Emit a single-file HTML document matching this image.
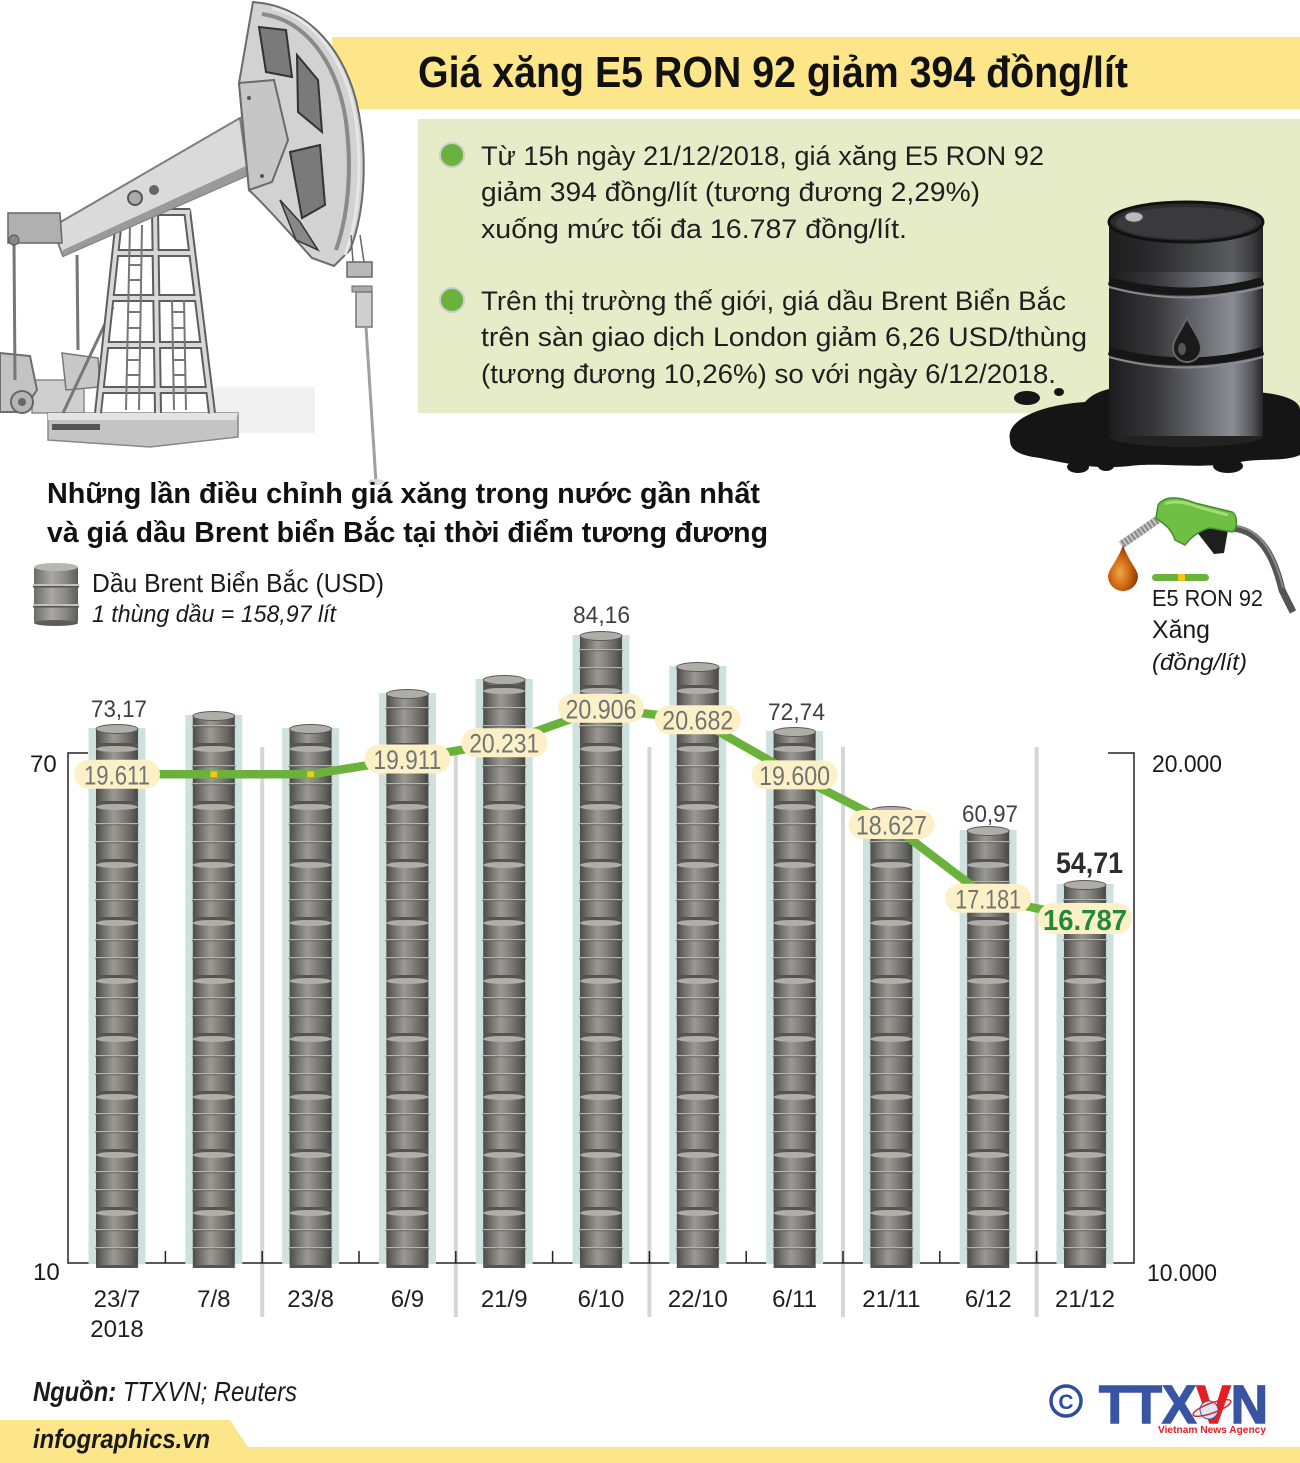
<!DOCTYPE html>
<html><head><meta charset="utf-8">
<style>
html,body{margin:0;padding:0;background:#fff;}
svg{display:block;}
text{font-family:"Liberation Sans","DejaVu Sans",sans-serif;}
</style></head><body>
<svg width="1300" height="1463" viewBox="0 0 1300 1463" xmlns="http://www.w3.org/2000/svg">
<defs>
 <linearGradient id="bg" x1="0" x2="1" y1="0" y2="0">
  <stop offset="0" stop-color="#4c4b48"/>
  <stop offset="0.2" stop-color="#74736f"/>
  <stop offset="0.42" stop-color="#9a9994"/>
  <stop offset="0.6" stop-color="#85847f"/>
  <stop offset="0.85" stop-color="#62615d"/>
  <stop offset="1" stop-color="#454442"/>
 </linearGradient>
 <linearGradient id="lg" x1="0" x2="1" y1="0" y2="0">
  <stop offset="0" stop-color="#6d6b67"/>
  <stop offset="0.4" stop-color="#aaa8a3"/>
  <stop offset="0.7" stop-color="#8c8a86"/>
  <stop offset="1" stop-color="#5e5c59"/>
 </linearGradient>
 <linearGradient id="bk" x1="0" x2="1" y1="0" y2="0">
  <stop offset="0" stop-color="#1c1c1e"/>
  <stop offset="0.3" stop-color="#38383b"/>
  <stop offset="0.62" stop-color="#6e6f75"/>
  <stop offset="0.8" stop-color="#8c8d94"/>
  <stop offset="0.93" stop-color="#55555a"/>
  <stop offset="1" stop-color="#262628"/>
 </linearGradient>
 <radialGradient id="dr" cx="0.4" cy="0.6" r="0.6">
  <stop offset="0" stop-color="#f3a54a"/>
  <stop offset="0.6" stop-color="#c9620c"/>
  <stop offset="1" stop-color="#8a3a05"/>
 </radialGradient>
 <pattern id="bp" patternUnits="userSpaceOnUse" x="94" y="-8" width="96.8" height="58">
  <rect x="2" y="0" width="42" height="58" fill="url(#bg)"/>
  <ellipse cx="23" cy="3" rx="21" ry="3" fill="#aeada8"/>
  <rect x="2" y="55" width="42" height="3" fill="#55544f"/>
  <rect x="1" y="19" width="44" height="1.3" rx="0.6" fill="#b4b3ae"/>
  <rect x="1" y="20.3" width="44" height="1" fill="#55544f" opacity="0.7"/>
  <rect x="1" y="37" width="44" height="1.3" rx="0.6" fill="#b4b3ae"/>
  <rect x="1" y="38.3" width="44" height="1" fill="#55544f" opacity="0.7"/>
 </pattern>
</defs>

<!-- header band -->
<rect x="332" y="37" width="968" height="72" fill="#fde68a"/>
<text x="418" y="87" font-size="44" font-weight="bold" fill="#111" textLength="710" lengthAdjust="spacingAndGlyphs">Giá xăng E5 RON 92 giảm 394 đồng/lít</text>

<!-- green box -->
<rect x="418" y="119" width="882" height="294" fill="#e6ecc7"/>
<circle cx="452" cy="155" r="12" fill="#6ab23c" stroke="#c9cdd0" stroke-width="2"/>
<circle cx="452" cy="300" r="12" fill="#6ab23c" stroke="#c9cdd0" stroke-width="2"/>
<g font-size="27" fill="#1f1f1f">
<text x="481" y="165" textLength="563" lengthAdjust="spacingAndGlyphs">Từ 15h ngày 21/12/2018, giá xăng E5 RON 92</text>
<text x="481" y="201" textLength="499" lengthAdjust="spacingAndGlyphs">giảm 394 đồng/lít (tương đương 2,29%)</text>
<text x="481" y="238" textLength="426" lengthAdjust="spacingAndGlyphs">xuống mức tối đa 16.787 đồng/lít.</text>
<text x="481" y="310" textLength="585" lengthAdjust="spacingAndGlyphs">Trên thị trường thế giới, giá dầu Brent Biển Bắc</text>
<text x="481" y="346" textLength="606" lengthAdjust="spacingAndGlyphs">trên sàn giao dịch London giảm 6,26 USD/thùng</text>
<text x="481" y="383" textLength="575" lengthAdjust="spacingAndGlyphs">(tương đương 10,26%) so với ngày 6/12/2018.</text>
</g>

<!-- oil puddle + barrel -->
<path d="M1010,440 C1005,420 1040,405 1085,402 C1100,385 1130,385 1160,390 L1230,392 C1260,390 1300,395 1300,410 L1300,455 C1285,462 1260,458 1240,462 C1200,470 1160,462 1130,466 C1090,470 1060,462 1040,458 C1015,455 1010,448 1010,440 Z" fill="#151515"/>
<ellipse cx="1027" cy="398" rx="13" ry="7" fill="#151515"/>
<ellipse cx="1059" cy="392" rx="5" ry="4" fill="#151515"/>
<ellipse cx="1078" cy="467" rx="11" ry="6" fill="#151515"/>
<ellipse cx="1106" cy="466" rx="8" ry="5" fill="#151515"/>
<ellipse cx="1228" cy="466" rx="15" ry="7" fill="#151515"/>
<ellipse cx="1276" cy="450" rx="10" ry="6" fill="#151515"/>
<ellipse cx="1186" cy="436" rx="77" ry="11" fill="#222"/>
<rect x="1109" y="222" width="154" height="214" fill="url(#bk)"/>
<rect x="1109" y="222" width="154" height="50" fill="#1e1e20" opacity="0.45"/>
<path d="M1109,281 Q1186,302 1263,281" stroke="#161616" stroke-width="8" fill="none"/>
<path d="M1109,287 Q1186,308 1263,287" stroke="#8a8a90" stroke-width="2" fill="none"/>
<path d="M1109,351 Q1186,372 1263,351" stroke="#161616" stroke-width="8" fill="none"/>
<path d="M1109,357 Q1186,378 1263,357" stroke="#8a8a90" stroke-width="2" fill="none"/>
<ellipse cx="1186" cy="222" rx="77" ry="20" fill="#2b2b2d" stroke="#111" stroke-width="3"/>
<ellipse cx="1186" cy="223" rx="70" ry="16" fill="#3a3a3d"/>
<ellipse cx="1134" cy="217" rx="9" ry="5" fill="#bbb" stroke="#555"/>
<path d="M1187,318 C1180,332 1173,340 1173,348 A14,14 0 0 0 1201,348 C1201,340 1194,332 1187,318 Z" fill="#1a1a1a" stroke="#666" stroke-width="2"/>
<ellipse cx="1182" cy="349" rx="4" ry="6" fill="#555"/>

<!-- oil pump illustration -->
<g>
 <rect x="207" y="387" width="108" height="46" fill="#f1f1f1"/>
 <rect x="32" y="380" width="52" height="33" fill="#cfcfcf" stroke="#8a8a8a" stroke-width="1.5"/>
 <polygon points="0,353 30,356 37,390 22,412 0,412" fill="#c3c3c3" stroke="#6d6d6d" stroke-width="2"/>
 <polygon points="62,353 98,358 100,387 66,390" fill="#c8c8c8" stroke="#777" stroke-width="1.5"/>
 <circle cx="22" cy="402" r="11" fill="#b5b5b5" stroke="#666" stroke-width="2"/>
 <circle cx="22" cy="402" r="4" fill="#666"/>
 <polygon points="48,413 238,413 238,437 150,447 48,440" fill="#c4c4c4" stroke="#888" stroke-width="1.5"/>
 <polygon points="48,413 238,413 236,420 48,420" fill="#e4e4e4"/>
 <rect x="52" y="424" width="48" height="6" fill="#555"/>
 <line x1="14" y1="245" x2="15" y2="380" stroke="#777" stroke-width="3"/>
 <line x1="77" y1="255" x2="78" y2="350" stroke="#777" stroke-width="3"/>
 <line x1="63" y1="413" x2="113" y2="307" stroke="#777" stroke-width="3"/>
 <!-- tower -->
 <g stroke="#5e5e5e" stroke-width="8" fill="none">
  <line x1="120" y1="210" x2="98" y2="413"/>
  <line x1="187" y1="210" x2="212" y2="413"/>
  <line x1="155" y1="210" x2="158" y2="413"/>
  <line x1="115" y1="253" x2="192" y2="253"/>
  <line x1="110" y1="298" x2="198" y2="298"/>
  <line x1="105" y1="345" x2="204" y2="345"/>
  <line x1="100" y1="390" x2="209" y2="390"/>
  <line x1="118" y1="212" x2="190" y2="212"/>
 </g>
 <g stroke="#d8d8d8" stroke-width="4" fill="none">
  <line x1="120" y1="210" x2="98" y2="413"/>
  <line x1="187" y1="210" x2="212" y2="413"/>
  <line x1="155" y1="210" x2="158" y2="413"/>
  <line x1="115" y1="253" x2="192" y2="253"/>
  <line x1="110" y1="298" x2="198" y2="298"/>
  <line x1="105" y1="345" x2="204" y2="345"/>
  <line x1="100" y1="390" x2="209" y2="390"/>
  <line x1="118" y1="212" x2="190" y2="212"/>
 </g>
 <g stroke="#777" stroke-width="2">
  <line x1="130" y1="225" x2="126" y2="410"/>
  <line x1="142" y1="225" x2="139" y2="410"/>
  <line x1="172" y1="300" x2="174" y2="410"/>
  <line x1="184" y1="300" x2="186" y2="410"/>
  <line x1="128" y1="265" x2="141" y2="265"/><line x1="128" y1="280" x2="141" y2="280"/>
  <line x1="127" y1="312" x2="140" y2="312"/><line x1="127" y1="328" x2="140" y2="328"/>
  <line x1="126" y1="360" x2="139" y2="360"/><line x1="126" y1="375" x2="139" y2="375"/>
  <line x1="172" y1="312" x2="185" y2="312"/><line x1="172" y1="328" x2="185" y2="328"/>
  <line x1="173" y1="360" x2="186" y2="360"/><line x1="173" y1="375" x2="186" y2="375"/>
 </g>
 <!-- beam -->
 <polygon points="52,227 240,118 248,175 63,256" fill="#dadada" stroke="#7d7d7d" stroke-width="2"/>
 <polygon points="63,250 246,166 248,175 63,256" fill="#9a9a9a"/>
 <polygon points="8,213 60,213 62,243 8,243" fill="#b0b0b0" stroke="#666" stroke-width="1.5"/>
 <circle cx="14" cy="240" r="5" fill="#888" stroke="#555"/>
 <circle cx="135" cy="198" r="7" fill="#aaa" stroke="#555" stroke-width="2"/>
 <circle cx="154" cy="190" r="5" fill="#666"/>
 <!-- horsehead -->
 <path d="M253,2 C300,5 340,40 356,100 C368,150 366,210 350,250 L334,266 L312,258 C300,245 275,215 249,190 L239,83 Z" fill="#d2d2d2" stroke="#6a6a6a" stroke-width="2"/>
 <path d="M262,14 C305,20 335,60 345,115 C352,160 350,210 336,250" stroke="#8a8a8a" stroke-width="4" fill="none"/>
 <path d="M272,8 C315,18 345,60 355,115 C362,160 360,215 345,255" stroke="#e6e6e6" stroke-width="3" fill="none"/>
 <polygon points="259,27 286,30 292,77 266,72" fill="#7a7a7a" stroke="#333" stroke-width="2"/>
 <polygon points="297,55 318,80 322,132 298,112" fill="#7a7a7a" stroke="#333" stroke-width="2"/>
 <polygon points="290,152 320,145 325,205 302,218" fill="#7a7a7a" stroke="#333" stroke-width="2"/>
 <polygon points="280,200 300,222 318,250 296,240" fill="#888" stroke="#333" stroke-width="1.5"/>
 <polygon points="239,83 274,80 288,140 272,182 249,190" fill="#c6c6c6" stroke="#6a6a6a" stroke-width="2"/>
 <circle cx="249" cy="98" r="2" fill="#555"/><circle cx="262" cy="176" r="2" fill="#555"/>
 <!-- rod -->
 <line x1="351" y1="235" x2="353" y2="262" stroke="#666" stroke-width="1.5"/>
 <line x1="360" y1="235" x2="364" y2="262" stroke="#666" stroke-width="1.5"/>
 <rect x="347" y="262" width="25" height="15" fill="#b8b8b8" stroke="#666" stroke-width="1.5"/>
 <rect x="352" y="286" width="20" height="6" fill="#aaa" stroke="#666"/>
 <rect x="356" y="292" width="16" height="35" fill="#cfcfcf" stroke="#777" stroke-width="1.5"/>
 <line x1="366" y1="327" x2="376" y2="482" stroke="#a0a0a0" stroke-width="3"/>
 <ellipse cx="376" cy="482" rx="8" ry="3" fill="#ddd"/>
</g>

<!-- subtitle -->
<text x="47" y="503" font-size="29" font-weight="bold" fill="#111" textLength="713" lengthAdjust="spacingAndGlyphs">Những lần điều chỉnh giá xăng trong nước gần nhất</text>
<text x="47" y="542" font-size="29" font-weight="bold" fill="#111" textLength="721" lengthAdjust="spacingAndGlyphs">và giá dầu Brent biển Bắc tại thời điểm tương đương</text>

<!-- legend left -->
<rect x="34" y="566" width="44" height="58" rx="3" fill="url(#lg)"/>
<ellipse cx="56" cy="567" rx="22" ry="4" fill="#b8b6b1"/>
<rect x="33" y="584" width="46" height="2" fill="#c2c0bb"/><rect x="33" y="586" width="46" height="1.5" fill="#55534f"/>
<rect x="33" y="604" width="46" height="2" fill="#c2c0bb"/><rect x="33" y="606" width="46" height="1.5" fill="#55534f"/>
<ellipse cx="56" cy="623" rx="22" ry="3" fill="#5e5c59"/>
<text x="92" y="592" font-size="26" fill="#1a1a1a" textLength="292" lengthAdjust="spacingAndGlyphs">Dầu Brent Biển Bắc (USD)</text>
<text x="92" y="622" font-size="24" font-style="italic" fill="#1a1a1a" textLength="244" lengthAdjust="spacingAndGlyphs">1 thùng dầu = 158,97 lít</text>

<!-- legend right: pump nozzle -->
<path d="M1232,528 C1262,530 1275,560 1282,590 L1293,612" stroke="#555" stroke-width="7" fill="none"/>
<path d="M1236,526 C1264,530 1276,560 1283,588" stroke="#8a8a8a" stroke-width="2" fill="none"/>
<path d="M1121,545 L1160,518" stroke="#8e8e8e" stroke-width="8"/>
<path d="M1121,545 L1160,518" stroke="#d0d0d0" stroke-width="8" stroke-dasharray="1.5 2.5"/>
<path d="M1192,526 L1228,530 L1224,553 L1214,554 L1200,536 Z" fill="#1e1e1e"/>
<path d="M1158,505 C1165,495 1180,497 1195,503 L1232,512 C1238,515 1238,530 1232,532 L1210,528 C1200,530 1190,538 1185,545 L1175,540 C1170,525 1160,522 1156,518 Z" fill="#6fbf44" stroke="#3f8f2a" stroke-width="1.5"/>
<path d="M1165,504 C1175,500 1188,503 1198,507 L1228,515" stroke="#a6dc72" stroke-width="3" fill="none"/>
<path d="M1123,545 C1118,560 1108,570 1108,576 A15,15 0 0 0 1138,576 C1138,570 1128,560 1123,545 Z" fill="url(#dr)"/>
<rect x="1152" y="574" width="57" height="7" rx="3.5" fill="#6ab23c"/>
<rect x="1178" y="574" width="7" height="7" fill="#f5c518"/>
<text x="1152" y="606" font-size="23" fill="#1a1a1a" textLength="111" lengthAdjust="spacingAndGlyphs">E5 RON 92</text>
<text x="1152" y="638" font-size="25" fill="#1a1a1a" textLength="58" lengthAdjust="spacingAndGlyphs">Xăng</text>
<text x="1152" y="670" font-size="23" font-style="italic" fill="#1a1a1a" textLength="95" lengthAdjust="spacingAndGlyphs">(đồng/lít)</text>

<!-- separators -->
<g fill="#d6d6d6">
 <rect x="260.2" y="747" width="4" height="570"/>
 <rect x="453.8" y="747" width="4" height="570"/>
 <rect x="647.4" y="747" width="4" height="570"/>
 <rect x="841" y="747" width="4" height="570"/>
 <rect x="1034.6" y="747" width="4" height="570"/>
</g>

<!-- axes -->
<g stroke="#222" stroke-width="1.5" fill="none">
 <polyline points="88,753 68,753 68,1263 1134,1263 1134,753 1108,753"/>
 <line x1="165.4" y1="1251" x2="165.4" y2="1263"/>
 <line x1="262.2" y1="1251" x2="262.2" y2="1263"/>
 <line x1="359" y1="1251" x2="359" y2="1263"/>
 <line x1="455.8" y1="1251" x2="455.8" y2="1263"/>
 <line x1="552.6" y1="1251" x2="552.6" y2="1263"/>
 <line x1="649.4" y1="1251" x2="649.4" y2="1263"/>
 <line x1="746.2" y1="1251" x2="746.2" y2="1263"/>
 <line x1="843" y1="1251" x2="843" y2="1263"/>
 <line x1="939.8" y1="1251" x2="939.8" y2="1263"/>
 <line x1="1036.6" y1="1251" x2="1036.6" y2="1263"/>
</g>

<!-- teal columns -->
<g fill="#cfe1de">
 <rect x="88.5" y="728" width="57" height="536"/>
 <rect x="185.3" y="715" width="57" height="549"/>
 <rect x="282.1" y="728" width="57" height="536"/>
 <rect x="378.9" y="693" width="57" height="571"/>
 <rect x="475.7" y="679" width="57" height="585"/>
 <rect x="572.5" y="635" width="57" height="629"/>
 <rect x="669.3" y="666" width="57" height="598"/>
 <rect x="766.1" y="731" width="57" height="533"/>
 <rect x="862.9" y="810" width="57" height="454"/>
 <rect x="959.7" y="830" width="57" height="434"/>
 <rect x="1056.5" y="884" width="57" height="380"/>
</g>

<!-- barrel stacks -->
<g fill="url(#bp)">
 <rect x="94" y="729" width="46" height="539"/>
 <rect x="190.8" y="716" width="46" height="552"/>
 <rect x="287.6" y="729" width="46" height="539"/>
 <rect x="384.4" y="694" width="46" height="574"/>
 <rect x="481.2" y="680" width="46" height="588"/>
 <rect x="578" y="636" width="46" height="632"/>
 <rect x="674.8" y="667" width="46" height="601"/>
 <rect x="771.6" y="732" width="46" height="536"/>
 <rect x="868.4" y="811" width="46" height="457"/>
 <rect x="965.2" y="831" width="46" height="437"/>
 <rect x="1062" y="885" width="46" height="383"/>
</g>
<g fill="#aeada8" stroke="#5a5955" stroke-width="1">
 <ellipse cx="117" cy="729" rx="21" ry="4.5"/>
 <ellipse cx="213.8" cy="716" rx="21" ry="4.5"/>
 <ellipse cx="310.6" cy="729" rx="21" ry="4.5"/>
 <ellipse cx="407.4" cy="694" rx="21" ry="4.5"/>
 <ellipse cx="504.2" cy="680" rx="21" ry="4.5"/>
 <ellipse cx="601" cy="636" rx="21" ry="4.5"/>
 <ellipse cx="697.8" cy="667" rx="21" ry="4.5"/>
 <ellipse cx="794.6" cy="732" rx="21" ry="4.5"/>
 <ellipse cx="891.4" cy="811" rx="21" ry="4.5"/>
 <ellipse cx="988.2" cy="831" rx="21" ry="4.5"/>
 <ellipse cx="1085" cy="885" rx="21" ry="4.5"/>
</g>

<!-- value labels (oil) -->
<g font-size="24" fill="#3f3f3f">
 <text x="91" y="717" textLength="56" lengthAdjust="spacingAndGlyphs">73,17</text>
 <text x="573" y="623" textLength="57" lengthAdjust="spacingAndGlyphs">84,16</text>
 <text x="768" y="720" textLength="57" lengthAdjust="spacingAndGlyphs">72,74</text>
 <text x="962" y="822" textLength="56" lengthAdjust="spacingAndGlyphs">60,97</text>
</g>
<text x="1056" y="873" font-size="30" font-weight="bold" fill="#2d2d2d" textLength="67" lengthAdjust="spacingAndGlyphs">54,71</text>

<!-- price line -->
<polyline points="117,774.3 213.8,774.3 310.6,774.3 407.4,759 504.2,742.7 601,708.3 697.8,719.7 794.6,774.9 891.4,824.5 988.2,898.3 1085,918.4" fill="none" stroke="#6ab23c" stroke-width="8.5" stroke-linejoin="round"/>
<rect x="210.3" y="771.3" width="7" height="6" fill="#f5c518"/>
<rect x="307.1" y="771.3" width="7" height="6" fill="#f5c518"/>

<g fill="#fcf1c6">
 <rect x="74" y="759.8" width="86" height="29" rx="14.5"/>
 <rect x="364.4" y="744.5" width="86" height="29" rx="14.5"/>
 <rect x="461.2" y="728.2" width="86" height="29" rx="14.5"/>
 <rect x="558" y="693.8" width="86" height="29" rx="14.5"/>
 <rect x="654.8" y="705.2" width="86" height="29" rx="14.5"/>
 <rect x="751.6" y="760.4" width="86" height="29" rx="14.5"/>
 <rect x="848.4" y="810" width="86" height="29" rx="14.5"/>
 <rect x="945.2" y="883.8" width="86" height="29" rx="14.5"/>
 <rect x="1038" y="903" width="94" height="31" rx="15"/>
</g>
<g font-size="27" fill="#737373" text-anchor="middle">
 <text x="117" y="784.3" textLength="66" lengthAdjust="spacingAndGlyphs">19.611</text>
 <text x="407.4" y="769" textLength="68" lengthAdjust="spacingAndGlyphs">19.911</text>
 <text x="504.2" y="752.7" textLength="70" lengthAdjust="spacingAndGlyphs">20.231</text>
 <text x="601" y="718.3" textLength="71" lengthAdjust="spacingAndGlyphs">20.906</text>
 <text x="697.8" y="729.7" textLength="71" lengthAdjust="spacingAndGlyphs">20.682</text>
 <text x="794.6" y="784.9" textLength="71" lengthAdjust="spacingAndGlyphs">19.600</text>
 <text x="891.4" y="834.5" textLength="71" lengthAdjust="spacingAndGlyphs">18.627</text>
 <text x="988.2" y="908.3" textLength="66" lengthAdjust="spacingAndGlyphs">17.181</text>
</g>
<text x="1043" y="930" font-size="29" font-weight="bold" fill="#22893a" textLength="84" lengthAdjust="spacingAndGlyphs">16.787</text>

<!-- axis labels -->
<g font-size="24" fill="#1a1a1a">
 <text x="30" y="772">70</text>
 <text x="33" y="1280">10</text>
 <text x="1152" y="772" textLength="70" lengthAdjust="spacingAndGlyphs">20.000</text>
 <text x="1147" y="1281" textLength="70" lengthAdjust="spacingAndGlyphs">10.000</text>
</g>
<g font-size="24" fill="#1f1f1f" text-anchor="middle">
 <text x="117" y="1307">23/7</text>
 <text x="117" y="1337">2018</text>
 <text x="213.8" y="1307">7/8</text>
 <text x="310.6" y="1307">23/8</text>
 <text x="407.4" y="1307">6/9</text>
 <text x="504.2" y="1307">21/9</text>
 <text x="601" y="1307">6/10</text>
 <text x="697.8" y="1307">22/10</text>
 <text x="794.6" y="1307">6/11</text>
 <text x="891.4" y="1307">21/11</text>
 <text x="988.2" y="1307">6/12</text>
 <text x="1085" y="1307">21/12</text>
</g>

<!-- footer -->
<text x="33" y="1401" font-size="28" font-style="italic" fill="#1a1a1a" textLength="264" lengthAdjust="spacingAndGlyphs"><tspan font-weight="bold">Nguồn:</tspan> TTXVN; Reuters</text>
<polygon points="0,1420 230,1420 248,1447 1300,1447 1300,1463 0,1463" fill="#fde68a"/>
<text x="33" y="1448" font-size="27" font-style="italic" font-weight="bold" fill="#1a1a1a" textLength="177" lengthAdjust="spacingAndGlyphs">infographics.vn</text>

<!-- TTXVN logo -->
<circle cx="1066" cy="1401" r="15" fill="none" stroke="#2e4d9f" stroke-width="3.5"/>
<text x="1066" y="1409" font-size="21" font-weight="bold" fill="#2e4d9f" text-anchor="middle">C</text>
<text x="1099" y="1423" font-size="54" font-weight="bold" fill="#3a54a4" stroke="#3a54a4" stroke-width="1.5" textLength="169" lengthAdjust="spacingAndGlyphs">TTX<tspan fill="#e31e25" stroke="#e31e25">V</tspan>N</text>
<circle cx="1209" cy="1410" r="9" fill="#dfe6f2" stroke="#3a54a4" stroke-width="1"/>
<ellipse cx="1212" cy="1408" rx="20" ry="5" fill="none" stroke="#e31e25" stroke-width="1.5" transform="rotate(-20 1212 1408)"/>
<text x="1158" y="1433" font-size="10.5" font-weight="bold" fill="#e31e25" textLength="108" lengthAdjust="spacingAndGlyphs">Vietnam News Agency</text>
</svg>
</body></html>
